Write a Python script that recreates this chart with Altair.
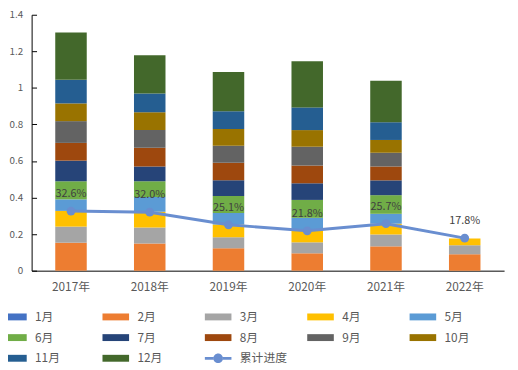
import altair as alt
import pandas as pd

years = ["2017年", "2018年", "2019年", "2020年", "2021年", "2022年"]
months = ["1月", "2月", "3月", "4月", "5月", "6月", "7月", "8月", "9月", "10月", "11月", "12月"]

m01 = [0.0, 0.0, 0.0, 0.0, 0.0, 0.0]
m02 = [0.153, 0.149, 0.122, 0.095, 0.133, 0.090]
m03 = [0.088, 0.087, 0.061, 0.060, 0.065, 0.049]
m04 = [0.086, 0.086, 0.069, 0.064, 0.059, 0.037]
m05 = [0.063, 0.081, 0.063, 0.070, 0.054, 0.0]
m06 = [0.099, 0.086, 0.093, 0.098, 0.102, 0.0]
m07 = [0.113, 0.081, 0.086, 0.091, 0.081, 0.0]
m08 = [0.097, 0.102, 0.097, 0.097, 0.076, 0.0]
m09 = [0.119, 0.097, 0.092, 0.103, 0.075, 0.0]
m10 = [0.097, 0.097, 0.092, 0.091, 0.070, 0.0]
m11 = [0.129, 0.103, 0.097, 0.124, 0.097, 0.0]
m12 = [0.259, 0.210, 0.215, 0.253, 0.227, 0.0]
monthly = [m01, m02, m03, m04, m05, m06, m07, m08, m09, m10, m11, m12]

progress = [0.326, 0.320, 0.251, 0.218, 0.257, 0.178]
progress_labels = ["32.6%", "32.0%", "25.1%", "21.8%", "25.7%", "17.8%"]
line_name = "累计进度"

month_colors = ["#4472C4", "#ED7D31", "#A5A5A5", "#FFC000", "#5B9BD5", "#70AD47",
                "#264478", "#9E480E", "#636363", "#997300", "#255E91", "#43682B"]
line_color = "#698ED0"
y_ticks = [0, 0.2, 0.4, 0.6, 0.8, 1, 1.2, 1.4]

# legend entry order (Vega fills legend grids column-wise, so this order
# yields rows 1月-5月 / 6月-10月 / 11月,12月,累计进度)
legend_order = ["1月", "6月", "10月", "2月", "7月", "11月", "3月", "8月", "12月",
                "4月", "9月", line_name, "5月"]

FONT = "Noto Sans CJK SC"
TXT = "#595959"

rows = []
for i, (m, vals) in enumerate(zip(months, monthly)):
    for yr, v in zip(years, vals):
        rows.append({"year": yr, "series": m, "idx": i, "value": v})
bars_df = pd.DataFrame(rows)
line_df = pd.DataFrame({"year": years, "progress": progress, "label": progress_labels})

series_color = dict(zip(months + [line_name], month_colors + [line_color]))
rect_path = "M-1.93,-0.5H1.93V0.5H-1.93Z"
line_path = ("M-1.93,-0.2H-0.68V0.2H-1.93Z M0.68,-0.2H1.93V0.2H0.68Z "
             "M-0.7,0A0.7,0.7 0 1,0 0.7,0A0.7,0.7 0 1,0 -0.7,0Z")
color_scale = alt.Scale(domain=legend_order, range=[series_color[s] for s in legend_order])
shape_scale = alt.Scale(domain=legend_order,
                        range=[line_path if s == line_name else rect_path for s in legend_order])
y_scale = alt.Scale(domain=[0, 1.4], nice=False)
x_scale = alt.Scale(domain=years, paddingInner=0.6, paddingOuter=0.3)

legend = alt.Legend(title=None, orient="none", legendX=-32, legendY=300, columns=5,
                    gridAlign="all", columnPadding=19, rowPadding=8, symbolSize=196,
                    symbolOffset=6.5, labelOffset=15, symbolStrokeWidth=0,
                    labelFont=FONT, labelFontSize=12, labelColor=TXT)

x_enc = alt.X("year:N", scale=x_scale, sort=years,
              axis=alt.Axis(title=None, labelAngle=0, ticks=False, domainColor="#000000",
                            labelColor=TXT, labelFont=FONT, labelFontSize=12, labelPadding=11))

bars = alt.Chart(bars_df).mark_bar().encode(
    x=x_enc,
    y=alt.Y("value:Q", stack="zero", scale=y_scale,
            axis=alt.Axis(title=None, values=y_ticks, labelExpr="format(datum.value, '~g')",
                          ticks=False, domainColor="#000000", grid=False,
                          labelColor=TXT, labelFont=FONT, labelFontSize=10, labelPadding=9)),
    color=alt.Color("series:N", scale=color_scale, legend=legend),
    order=alt.Order("idx:Q", sort="ascending"),
)

line = alt.Chart(line_df).mark_line(
    color=line_color, strokeWidth=3,
    point=alt.OverlayMarkDef(filled=True, size=80, color=line_color, opacity=1),
).encode(
    x=alt.X("year:N", scale=x_scale, sort=years),
    y=alt.Y("progress:Q", scale=y_scale, axis=None),
)

labels = alt.Chart(line_df).mark_text(dy=-17, fontSize=11, font=FONT, color="#404040").encode(
    x=alt.X("year:N", scale=x_scale, sort=years),
    y=alt.Y("progress:Q", scale=y_scale, axis=None),
    text="label:N",
)

helper = alt.Chart(bars_df).mark_point(filled=True, opacity=1).encode(
    x=alt.X("year:N", scale=x_scale, sort=years),
    y=alt.Y("value:Q", scale=y_scale,
            axis=alt.Axis(orient="right", offset=-480, labels=False, domain=False, grid=False,
                          ticks=True, tickSize=5, tickColor="#000000", values=y_ticks, title=None)),
    color=alt.Color("series:N", scale=color_scale, legend=legend),
    shape=alt.Shape("series:N", scale=shape_scale, legend=legend),
).transform_filter("false")

chart = alt.layer(bars, line, labels, helper).resolve_axis(y="independent").properties(
    width=480, height=260,
    autosize=alt.AutoSizeParams(type="none"),
    padding={"left": 24, "top": 4, "right": 6, "bottom": 94},
).configure_view(strokeWidth=0)

chart.save("out.html", embed_options={"renderer": "svg", "actions": False})
